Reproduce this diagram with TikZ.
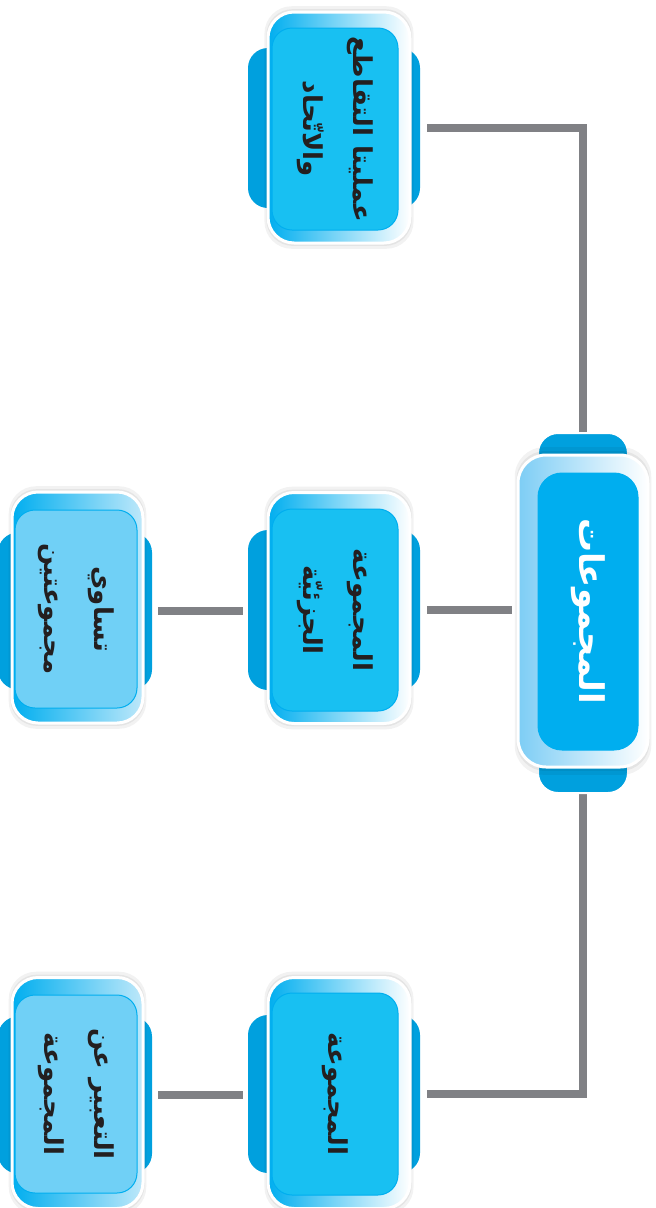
\documentclass[tikz,border=0pt]{standalone}
\usepackage{fontspec}
\newfontfamily\arabicfont[Script=Arabic]{DejaVu Sans}
\TeXXeTstate=1
\usetikzlibrary{calc,shadows}
\definecolor{cblue}{RGB}{0,174,239}
\definecolor{ctab}{RGB}{0,160,222}
\definecolor{cinner}{RGB}{24,192,242}
\definecolor{clight}{RGB}{112,208,246}
\definecolor{cring}{RGB}{125,205,245}
\definecolor{cfade}{RGB}{190,232,250}
\definecolor{cline}{RGB}{128,129,133}
\definecolor{ctext}{RGB}{35,31,32}
\pgfdeclarelayer{bg}
\pgfsetlayers{bg,main}
\begin{document}
\begin{tikzpicture}[x=1pt,y=-1pt,
  tabbox/.style={rectangle, fill=ctab, rounded corners=20pt, inner sep=0pt},
  frontbox/.style={rectangle, draw=white, line width=3pt, rounded corners=26pt, inner sep=0pt,
     general shadow={fill=black, opacity=0.05, shadow scale=1.05},
     general shadow={fill=black, opacity=0.06, shadow scale=1.025}},
  frontA/.style={frontbox, left color=cblue, middle color=cblue, right color=white},
  frontB/.style={frontbox, left color=cblue, middle color=cblue, right color=cfade},
  frontR/.style={frontbox, left color=cring, right color=white},
  innerbox/.style={rectangle, rounded corners=20pt, inner sep=0pt, draw=cblue, line width=1pt},
  lbl/.style={rotate=-90, align=center, text=ctext, inner sep=0pt,
     font=\arabicfont\bfseries\fontsize{26}{50}\selectfont},
  conn/.style={draw=cline, line width=8pt}
]
\useasboundingbox (0,0) rectangle (656,1208);

% root
\node[tabbox, draw=white, line width=2pt, minimum width=90pt, minimum height=360pt] (tabR) at (583,613) {};
\node[frontR, minimum width=130pt, minimum height=312pt, rounded corners=28pt] (frontR) at (583,611) {};
\node[innerbox, fill=cblue, minimum width=100pt, minimum height=277pt, rounded corners=24pt] (innerR) at (588,611.5) {};
\node[lbl, text=white, font=\arabicfont\bfseries\fontsize{34}{40}\selectfont] (tR) at (588,611) {\beginR المجموعات\endR};

% level 1 top
\node[tabbox, minimum width=172pt, minimum height=160pt] (tab1) at (334,128) {};
\node[frontA, minimum width=142pt, minimum height=231pt] (front1) at (339,127.5) {};
\node[innerbox, fill=cinner, minimum width=126pt, minimum height=202pt] (inner1) at (335,129) {};
\node[lbl] (t1) at (335,129) {\beginR عمليتا التقاطع\endR\\\beginR والاتّحاد\endR};

% level 1 middle
\node[tabbox, minimum width=172pt, minimum height=160pt] (tab2) at (334,610) {};
\node[frontA, minimum width=142pt, minimum height=231pt] (front2) at (339,608) {};
\node[innerbox, fill=cinner, minimum width=126pt, minimum height=202pt] (inner2) at (335,610) {};
\node[lbl] (t2) at (335,610) {\beginR المجموعة\endR\\\beginR الجزئيّة\endR};

% level 1 bottom
\node[tabbox, minimum width=172pt, minimum height=158pt] (tab3) at (334,1094) {};
\node[frontA, minimum width=142pt, minimum height=231pt] (front3) at (339,1093) {};
\node[innerbox, fill=cinner, minimum width=126pt, minimum height=202pt] (inner3) at (335,1094) {};
\node[lbl] (t3) at (335,1094) {\beginR المجموعة\endR};

% level 2 middle
\node[tabbox, minimum width=154pt, minimum height=157pt] (tab4) at (75,611) {};
\node[frontB, minimum width=131pt, minimum height=231pt] (front4) at (77.5,607.5) {};
\node[innerbox, fill=clight, minimum width=122pt, minimum height=198pt] (inner4) at (76,609) {};
\node[lbl] (t4) at (76,609) {\beginR تساوي\endR\\\beginR مجموعتين\endR};

% level 2 bottom
\node[tabbox, minimum width=154pt, minimum height=157pt] (tab5) at (75,1095) {};
\node[frontB, minimum width=131pt, minimum height=231pt] (front5) at (77.5,1093) {};
\node[innerbox, fill=clight, minimum width=122pt, minimum height=198pt] (inner5) at (76,1094) {};
\node[lbl] (t5) at (76,1094) {\beginR التعبير عن\endR\\\beginR المجموعة\endR};

\begin{pgfonlayer}{bg}
\draw[conn] ([xshift=7pt]tab1.east) -| (tabR.north);
\draw[conn] ([xshift=7pt]tab2.east) -- ([xshift=-5pt]frontR.west |- tab2.east);
\draw[conn] ([xshift=7pt]tab3.east) -| (tabR.south);
\draw[conn] ([xshift=6pt]tab4.east) -- ([xshift=-5pt]tab2.west |- tab4.east);
\draw[conn] ([xshift=6pt]tab5.east) -- ([xshift=-5pt]tab3.west |- tab5.east);
\end{pgfonlayer}
\end{tikzpicture}
\end{document}
